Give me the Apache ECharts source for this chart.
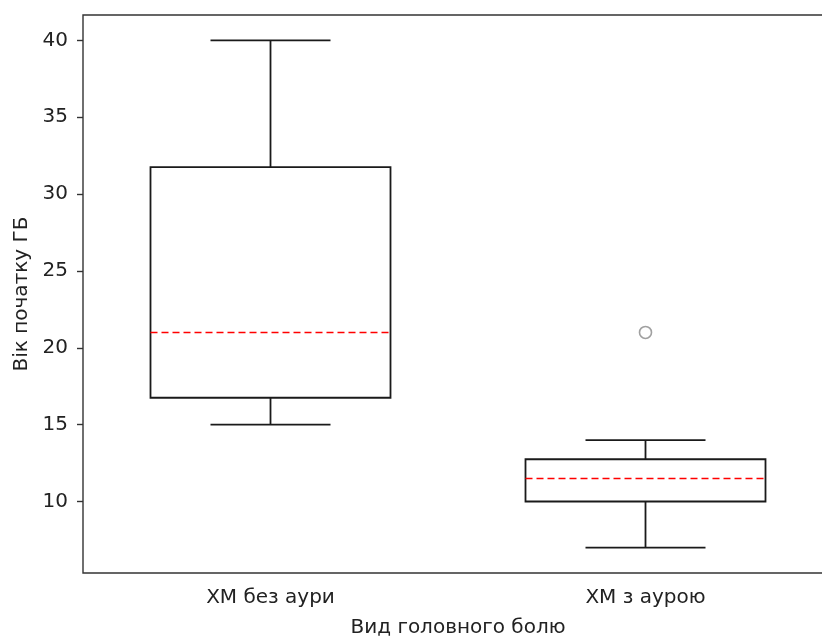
<!DOCTYPE html>
<html>
<head>
<meta charset="utf-8">
<script src="https://cdn.jsdelivr.net/npm/echarts@6/dist/echarts.min.js"></script>
<style>
  html, body { margin: 0; padding: 0; background: #fff; }
  #main { width: 822px; height: 636px; }
</style>
</head>
<body>
<div id="main"></div>
<script>
// categories and box statistics
var categories = ['ХМ без аури', 'ХМ з аурою'];
var lowWhisker = [15, 7];
var q1 = [16.75, 10];
var medians = [21, 11.5];
var q3 = [31.75, 12.75];
var highWhisker = [40, 14];
var outliers = [[1, 21]];
var yTicks = [10, 15, 20, 25, 30, 35, 40];

var boxRows = [];
for (var i = 0; i < categories.length; i++) {
    boxRows.push([i, lowWhisker[i], q1[i], medians[i], q3[i], highWhisker[i]]);
}

function renderBox(params, api) {
    var idx = api.value(0);
    var pLow = api.coord([idx, api.value(1)]);
    var pQ1 = api.coord([idx, api.value(2)]);
    var pMed = api.coord([idx, api.value(3)]);
    var pQ3 = api.coord([idx, api.value(4)]);
    var pHigh = api.coord([idx, api.value(5)]);
    var band = api.size([1, 0])[0];
    var bw = band * 0.64;
    var cw = bw / 2;
    var x = pLow[0];
    var lineStyle = { stroke: '#1a1a1a', lineWidth: 1.8, fill: null };
    return {
        type: 'group',
        children: [
            { type: 'rect', shape: { x: x - bw / 2, y: pQ3[1], width: bw, height: pQ1[1] - pQ3[1] },
              style: { stroke: '#1a1a1a', lineWidth: 1.8, fill: '#fff' } },
            { type: 'line', shape: { x1: x, y1: pQ3[1], x2: x, y2: pHigh[1] }, style: lineStyle },
            { type: 'line', shape: { x1: x, y1: pQ1[1], x2: x, y2: pLow[1] }, style: lineStyle },
            { type: 'line', shape: { x1: x - cw / 2, y1: pHigh[1], x2: x + cw / 2, y2: pHigh[1] }, style: lineStyle },
            { type: 'line', shape: { x1: x - cw / 2, y1: pLow[1], x2: x + cw / 2, y2: pLow[1] }, style: lineStyle },
            { type: 'line', shape: { x1: x - bw / 2, y1: pMed[1], x2: x + bw / 2, y2: pMed[1] },
              style: { stroke: '#ff0000', lineWidth: 1.6, lineDash: [7, 4] } }
        ]
    };
}

var myChart = echarts.init(document.getElementById('main'));
myChart.setOption({
    animation: false,
    textStyle: { fontFamily: 'DejaVu Sans' },
    grid: {
        left: 83,
        top: 15,
        width: 750,
        height: 558,
        outerBoundsMode: 'none',
        containLabel: false,
        show: true,
        borderColor: '#333',
        borderWidth: 1.4
    },
    xAxis: {
        type: 'category',
        data: categories,
        boundaryGap: true,
        name: 'Вид головного болю',
        nameLocation: 'middle',
        nameGap: 45,
        nameTextStyle: { color: '#222', fontSize: 20 },
        axisLine: { show: false },
        axisTick: { alignWithLabel: true, length: 6, lineStyle: { color: '#333', width: 1.4 } },
        axisLabel: { color: '#222', fontSize: 20, margin: 15 },
        splitLine: { show: false }
    },
    yAxis: {
        type: 'value',
        min: 5.35,
        max: 41.65,
        name: 'Вік початку ГБ',
        nameLocation: 'middle',
        nameGap: 51,
        nameTextStyle: { color: '#222', fontSize: 20 },
        axisLine: { show: false },
        axisTick: { show: true, length: 6, customValues: yTicks, lineStyle: { color: '#333', width: 1.4 } },
        axisLabel: { color: '#222', fontSize: 20, margin: 15, customValues: yTicks },
        splitLine: { show: false }
    },
    series: [
        {
            type: 'custom',
            renderItem: renderBox,
            encode: { x: 0, y: [1, 2, 3, 4, 5] },
            data: boxRows
        },
        {
            type: 'scatter',
            symbol: 'circle',
            symbolSize: 12,
            itemStyle: { color: '#fff', borderColor: '#888', borderWidth: 1.6 },
            data: outliers
        }
    ]
});
</script>
</body>
</html>
